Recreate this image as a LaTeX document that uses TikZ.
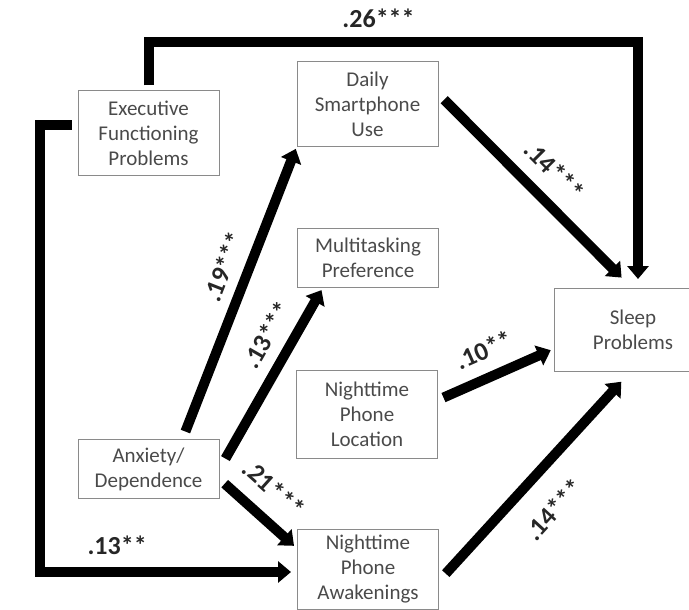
\documentclass[tikz,border=0pt]{standalone}
\usepackage{fontspec}
\setmainfont{Carlito}
\usetikzlibrary{arrows.meta}
\definecolor{boxtxt}{HTML}{4A4A4A}
\definecolor{boxln}{HTML}{8A8A8A}
\tikzset{
  >={Triangle[length=13pt,width=21pt]},
  bx/.style={draw=boxln,line width=1pt,align=center,text=boxtxt,font=\fontsize{21}{25}\selectfont,minimum width=141pt,inner sep=2pt},
  pth/.style={->,line width=10pt},
  lbl/.style={font=\fontsize{26}{26}\selectfont\bfseries,text=black!85,inner sep=1pt},
}
\begin{document}
\begin{tikzpicture}[x=1pt,y=-1pt]
\useasboundingbox (0,0) rectangle (689,610);
\node[bx,minimum height=84pt] (exe) at (148.5,133) {Executive\\Functioning\\Problems};
\node[bx,minimum height=85pt] (daily) at (367.5,104) {Daily\\Smartphone\\Use};
\node[bx,minimum height=59pt] (multi) at (368,257.5) {Multitasking\\Preference};
\node[bx,minimum height=88pt] (loc) at (367,414) {Nighttime\\Phone\\Location};
\node[bx,minimum height=59pt] (anx) at (148.5,469) {Anxiety/\\Dependence};
\node[bx,minimum height=80pt] (awk) at (368,569) {Nighttime\\Phone\\Awakenings};
\node[bx,minimum height=83pt,minimum width=158pt] (sleep) at (633,330) {Sleep\\Problems};
\coordinate (topr) at (638,42); \coordinate (botl) at (40,572);
% paths from executive functioning
\draw[pth,shorten <=5pt,shorten >=9pt] (exe.north) |- node[lbl,pos=0.735,above=8pt]{.26***} (topr) -- ([xshift=5pt]sleep.north);
\draw[pth,shorten <=6pt,shorten >=6pt] ([yshift=8pt]exe.west) -| (botl) -- node[lbl,pos=0.3,above=11pt]{.13**} ([yshift=-3pt]awk.west);
% paths from anxiety/dependence
\draw[pth,shorten <=8pt,shorten >=2pt] ([xshift=34pt]anx.north) -- node[lbl,sloped,pos=0.56,above=9pt]{.19***} (daily.south west);
\draw[pth,shorten <=12pt,shorten >=3pt] (anx.east) -- node[lbl,sloped,pos=0.67,above=10pt]{.13***} ([xshift=26pt]multi.south west);
\draw[pth,shorten <=7pt,shorten >=4pt] ([yshift=-10pt]anx.east) -- node[lbl,sloped,pos=0.45,above=14pt]{.21***} ([yshift=-20pt]awk.north west);
% paths into sleep problems
\draw[pth,shorten <=8pt,shorten >=2pt] ([yshift=10pt]daily.east) -- node[lbl,sloped,pos=0.52,above=13pt]{.14***} ([xshift=-10pt,yshift=9pt]sleep.north);
\draw[pth,shorten <=6pt,shorten >=3pt] ([yshift=14pt]loc.east) -- node[lbl,sloped,pos=0.49,above=12pt]{.10**} ([yshift=-19pt]sleep.west);
\draw[pth,shorten <=10pt,shorten >=1pt] ([yshift=-12pt]awk.east) -- node[lbl,sloped,pos=0.48,below=21pt]{.14***} ([xshift=-11pt,yshift=-9pt]sleep.south);
\end{tikzpicture}
\end{document}
